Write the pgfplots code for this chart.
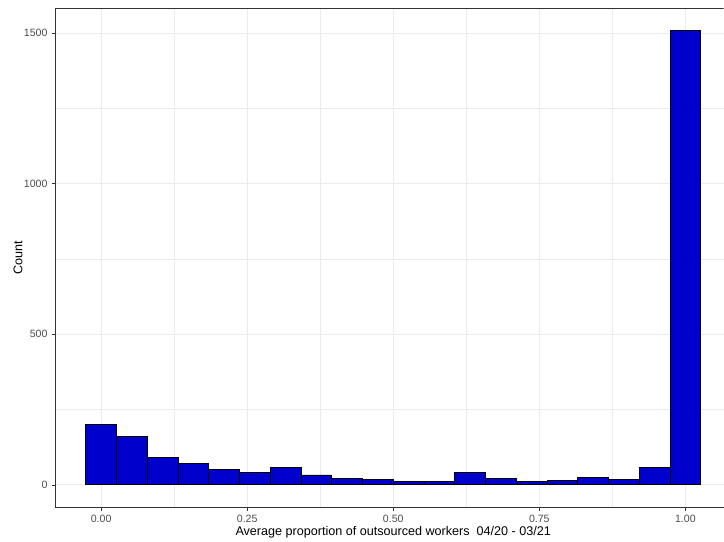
\documentclass[border=0pt]{standalone}
\usepackage{pgfplots}
\pgfplotsset{compat=1.18}
\usepackage{fontspec}
\setmainfont{Liberation Sans}
\definecolor{barblue}{RGB}{0,0,205}
\definecolor{gridc}{RGB}{235,235,235}
\definecolor{gtwenty}{RGB}{51,51,51}
\definecolor{gthirty}{RGB}{77,77,77}
\begin{document}
\begin{tikzpicture}
\begin{axis}[
  scale only axis,
  width=669pt, height=500pt,
  xmin=-0.07895, xmax=1.0652,
  ymin=-75.4, ymax=1583.4,
  axis x line*=bottom, axis y line*=left,
  axis line style={gtwenty, line width=0.9pt},
  tick align=outside,
  major tick length=3pt,
  minor tick length=0pt,
  tick style={gtwenty, line width=0.8pt},
  xtick={0,0.25,0.5,0.75,1},
  xticklabels={0.00,0.25,0.50,0.75,1.00},
  ytick={0,500,1000,1500},
  yticklabels={0,500,1000,1500},
  minor xtick={0.125,0.375,0.625,0.875},
  minor ytick={250,750,1250},
  grid=both,
  major grid style={gridc, line width=1pt},
  minor grid style={gridc, line width=0.55pt},
  ticklabel style={font=\fontsize{10.6}{12}\selectfont, text=gthirty},
  xticklabel style={yshift=-1pt},
  yticklabel style={xshift=-1pt},
  xlabel={Average proportion of outsourced workers\ \ 04/20 - 03/21},
  ylabel={Count},
  label style={font=\fontsize{12.6}{14}\selectfont, text=black},
  xlabel style={at={(axis description cs:0.506,-0.05)}, anchor=center},
  ylabel style={at={(axis description cs:-0.0553,0.5)}, anchor=center},
  clip=true,
]
\addplot[ybar interval, fill=barblue, draw=black, line width=0.9pt] coordinates {
(-0.026316,200)
(0.026316,162)
(0.078947,90)
(0.131579,72)
(0.184211,52)
(0.236842,41)
(0.289474,59)
(0.342105,33)
(0.394737,22)
(0.447368,18)
(0.500000,11)
(0.552632,10)
(0.605263,41)
(0.657895,22)
(0.710526,10)
(0.763158,14)
(0.815789,26)
(0.868421,18)
(0.921053,57)
(0.973684,1508)
(1.026316,1508)
};
\draw[gtwenty, line width=0.9pt] (rel axis cs:0,1) -- (rel axis cs:1,1);
\end{axis}
\path (current axis.south west) ++(-55pt,-34pt);
\path (current axis.north east) ++(0pt,8pt);
\end{tikzpicture}
\end{document}
